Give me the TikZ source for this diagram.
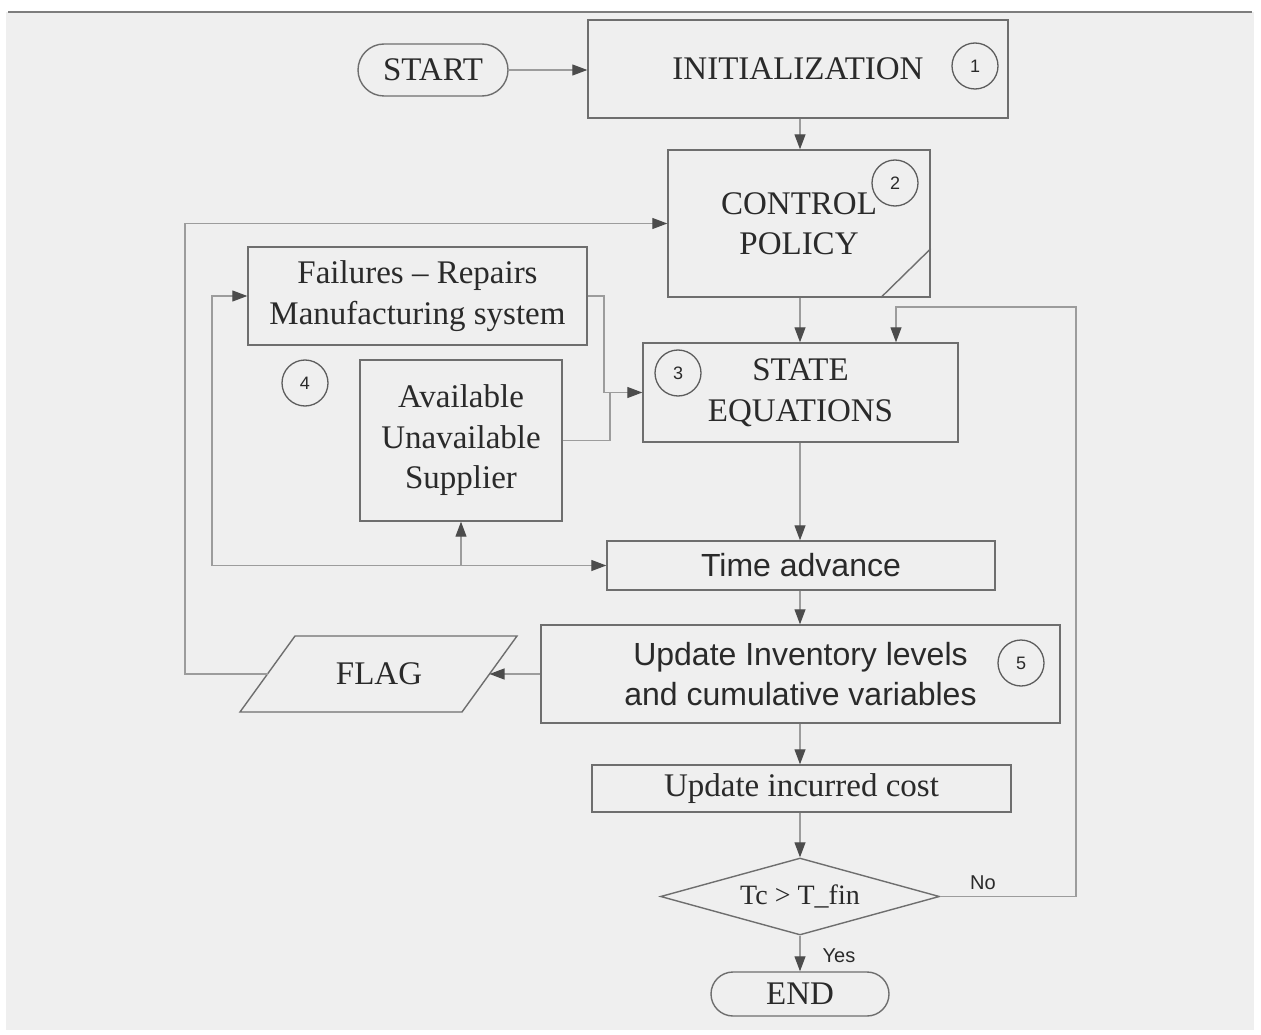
\documentclass[tikz,border=0pt]{standalone}
\usepackage{fontspec}
\setmainfont{Liberation Serif}
\setsansfont{Liberation Sans}
\usetikzlibrary{arrows.meta,shapes.geometric}

\definecolor{paper}{HTML}{EFEFEF}
\definecolor{edge}{HTML}{6E6E6E}
\definecolor{wire}{HTML}{9C9C9C}
\definecolor{ink}{HTML}{2A2A2A}
\definecolor{tipc}{HTML}{4C4C4C}

\newcommand\serifbig{\fontsize{33}{40.5}\selectfont}
\newcommand\sansbig{\sffamily\fontsize{32}{40}\selectfont}
\newcommand\numfont{\sffamily\fontsize{18}{20}\selectfont}
\newcommand\lblfont{\sffamily\fontsize{20}{22}\selectfont}

\begin{document}
\begin{tikzpicture}[x=1pt,y=-1pt,
  box/.style={draw=edge,line width=1.4pt,inner sep=0pt,text=ink,align=center,font=\serifbig},
  sbox/.style={box,font=\sansbig},
  term/.style={box,rounded corners=#1},
  num/.style={draw=edge!85!black,line width=1.3pt,circle,inner sep=0pt,minimum size=46pt,text=ink,font=\numfont},
  decision/.style={draw=edge,line width=1.4pt,diamond,aspect=3.62,inner sep=0pt,text=ink,font=\fontsize{28}{30}\selectfont},
  flow/.style={draw=wire,line width=1.2pt,-{Triangle[length=15pt,width=11pt,color=tipc]}},
  wireline/.style={draw=wire,line width=1.2pt},
  lbl/.style={text=ink,font=\lblfont,inner sep=0pt}
]
% page and frame
\fill[white] (0,0) rectangle (1261,1035);
\fill[paper] (6,12) rectangle (1254,1030);
\draw[line width=2pt,color=edge!90] (8,12) -- (1252,12);
\useasboundingbox (0,0) rectangle (1261,1035);

% main column
\node[term=26pt,minimum width=150pt,minimum height=52pt] (start) at (433,70) {START};
\node[box,minimum width=420pt,minimum height=98pt] (init) at (798,69) {INITIALIZATION};
\node[num] (n1) at (975,66) {1};

\node[box,minimum width=262pt,minimum height=147pt] (ctrl) at (799,223.5) {CONTROL\\POLICY};
\node[num] (n2) at (895,183) {2};
\draw[draw=edge,line width=1.4pt] ([xshift=-50pt]ctrl.south east) -- ([yshift=49pt]ctrl.south east);

\node[box,minimum width=315pt,minimum height=99pt] (state) at (800.5,392.5) {STATE\\EQUATIONS};
\node[num] (n3) at (678,373) {3};

\node[box,minimum width=339pt,minimum height=98pt] (fail) at (417.5,296) {Failures -- Repairs\\Manufacturing system};
\node[box,minimum width=202pt,minimum height=161pt] (avail) at (461,440.5) {Available\\Unavailable\\Supplier};
\node[num] (n4) at (305,383) {4};

\node[sbox,minimum width=388pt,minimum height=49pt] (time) at (801,565.5) {Time advance};
\node[sbox,minimum width=519pt,minimum height=98pt] (inv) at (800.5,674) {Update Inventory levels\\and cumulative variables};
\node[num] (n5) at (1021,663) {5};

\node[box,minimum width=419pt,minimum height=47pt] (cost) at (801.5,788.5) {Update incurred cost};
\node[decision,minimum width=279pt,minimum height=77pt] (dec) at (800,896.5) {Tc > T\_fin};
\node[term=22pt,minimum width=178pt,minimum height=44pt] (end) at (800,994) {END};

% FLAG output
\draw[draw=edge,line width=1.4pt,fill=paper] (295,636) -- (517,636) -- (462,712) -- (240,712) -- cycle;
\node[text=ink,font=\serifbig] (flag) at (379,674) {FLAG};
\coordinate (flagW) at (267.5,674);
\coordinate (flagE) at (489.5,674);

% axis of the main column
\coordinate (ax) at (800,0);

% main flow
\draw[flow] (start.east) -- (start.east -| init.west);
\draw[flow] (init.south -| ax) -- (ctrl.north -| ax);
\draw[flow] (ctrl.south -| ax) -- (state.north -| ax);
\draw[flow] (state.south -| ax) -- (time.north -| ax);
\draw[flow] (time.south -| ax) -- (inv.north -| ax);
\draw[flow] (inv.south -| ax) -- (cost.north -| ax);
\draw[flow] (cost.south -| ax) -- (dec.north);
\draw[flow] (dec.south) -- (end.north);
\node[lbl] (yes) at (839,956) {Yes};

% loop back while the horizon is not reached
\coordinate (loopN) at ([xshift=95.5pt]state.north);
\draw[flow] (dec.east) -- (1076,896.5) -- (1076,307) -- (loopN |- 0,307) -- (loopN);
\node[lbl] (no) at (983,883) {No};

% FLAG back to the control policy
\draw[flow] (inv.west) -- (flagE);
\draw[flow] (flagW) -- (185,674) -- (185,223.5) -- (ctrl.west);

% time advance feeding the stochastic events
\coordinate (junc) at (212,565.5);
\draw[flow] (junc) -- (time.west);
\draw[flow] (junc) -- (212,296) -- (fail.west);
\draw[flow] (avail.south |- junc) -- (avail.south);

% events into the state equations
\draw[flow] (fail.east) -- (604,296) -- (604,392.5) -- (state.west);
\draw[wireline] (avail.east) -- (610,440.5) -- (610,392.5);
\end{tikzpicture}
\end{document}
